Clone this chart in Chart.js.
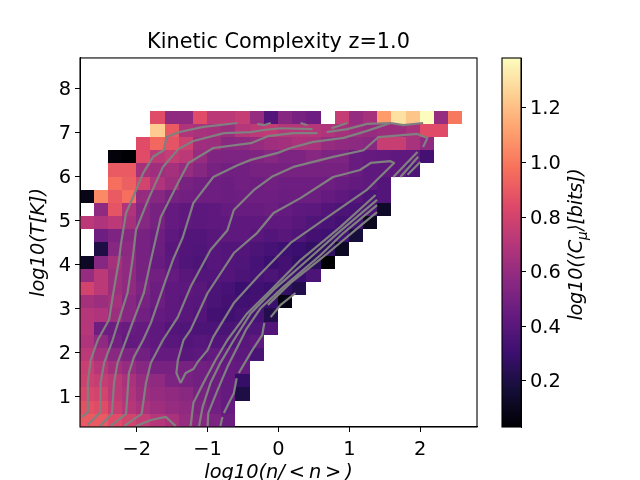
<!DOCTYPE html>
<html>
<head>
<meta charset="utf-8">
<script src="https://cdn.jsdelivr.net/npm/chart.js@4"></script>
<style>
  body { margin: 0; background: #fff; }
  canvas { position: absolute; top: 0; }
  #mapChart { left: 0; }
  #barChart { left: 490px; }
</style>
</head>
<body>
<canvas id="mapChart" width="640" height="480"></canvas>
<canvas id="barChart" width="150" height="480"></canvas>
<script>
const _ = null;

const chartTitle = 'Kinetic Complexity z=1.0';
const xLabel = 'log10(n/\u2009<\u2009n\u2009>\u2009)';
const yLabel = 'log10(T[K])';
const xTicks = [-2, -1, 0, 1, 2];
const yTicks = [1, 2, 3, 4, 5, 6, 7, 8];
const barTicks = [0.2, 0.4, 0.6, 0.8, 1.0, 1.2];
const valueMin = 0.03;
const valueMax = 1.383;

// left edge of each density bin
const xBins = [-2.8, -2.6, -2.4, -2.2, -2.0, -1.8, -1.6, -1.4, -1.2, -1.0, -0.8, -0.6, -0.4, -0.2,
  0, 0.2, 0.4, 0.6, 0.8, 1.0, 1.2, 1.4, 1.6, 1.8, 2.0, 2.2, 2.4, 2.6];
// lower edge of each temperature bin, top row first
const yBins = [7.2, 6.9, 6.6, 6.3, 6.0, 5.7, 5.4, 5.1, 4.8, 4.5, 4.2, 3.9,
  3.6, 3.3, 3.0, 2.7, 2.4, 2.1, 1.8, 1.5, 1.2, 0.9, 0.6, 0.3];

// log10 complexity per cell, one row per yBins entry
const cells = [
  [_, _, _, _, _, .85, .58, .58, .85, .72, .72, .75, .6, .38, .55, .5, .47, _, .75, .6, .65, 1.1, 1.3, 1.22, 1.38, .6, 1.0],
  [_, _, _, _, _, 1.24, .9, .68, .66, .65, .62, .7, .72, .74, .7, .7, .7, .68, .65, .62, .6, .62, .62, .66, .85, .85],
  [_, _, _, _, .85, .95, .88, .78, .63, .62, .56, .57, .6, .63, .64, .67, .66, .6, .58, .57, .56, .76, .76, .66, .58],
  [_, _, .05, .03, .85, .72, .75, .72, .6, .53, .52, .52, .53, .55, .52, .52, .55, .52, .52, .45, .44, .43, .42, .42, .33],
  [_, _, .9, .9, .65, .63, .65, .6, .55, .5, .48, .48, .5, .5, .5, .5, .5, .5, .5, .45, .42, .42, .42, .36],
  [_, _, .97, .92, .8, .68, .62, .5, .48, .47, .46, .48, .47, .48, .47, .47, .47, .47, .45, .43, .42, .38],
  [.08, 1.05, .9, .97, .6, .55, .5, .48, .47, .47, .46, .47, .47, .47, .46, .46, .46, .44, .42, .39, .36, .38],
  [_, .58, .88, .68, .55, .5, .44, .42, .41, .42, .44, .45, .45, .46, .44, .42, .41, .38, .36, .35, .36, .13],
  [.72, .68, .72, .65, .55, .5, .44, .42, .41, .42, .42, .42, .42, .42, .42, .4, .37, .35, .33, .32, .1],
  [_, .47, .52, .55, .5, .47, .42, .38, .38, .4, .42, .42, .4, .38, .4, .37, .33, .31, .31, .18],
  [_, .2, .55, .57, .5, .46, .4, .38, .37, .39, .38, .38, .36, .34, .31, .3, .27, .26, .12],
  [.12, .55, .65, .58, .5, .45, .41, .37, .36, .39, .38, .37, .34, .3, .33, .28, .25, .03],
  [.6, .72, .62, .58, .5, .48, .44, .4, .38, .38, .38, .36, .34, .36, .33, .3, .36],
  [.8, .72, .62, .58, .52, .46, .42, .41, .4, .36, .34, .3, .32, .3, .27, .22],
  [.65, .62, .65, .55, .5, .46, .42, .4, .39, .35, .33, .32, .33, .3, .07],
  [.7, .68, .62, .55, .48, .44, .42, .4, .38, .33, .32, .34, .34, .22],
  [.7, .47, .46, .45, .44, .42, .38, .37, .36, .36, .35, .37, .37, .38],
  [.68, .58, .48, .43, .44, .42, .4, .38, .39, .38, .38, .4, .42],
  [.72, .64, .56, .52, .48, .44, .44, .4, .41, .44, .43, .41, .35],
  [.77, .7, .64, .6, .55, .5, .5, .5, .48, .47, .44, .43],
  [.78, .75, .72, .66, .6, .58, .52, .5, .48, .46, .44, .28],
  [.82, .8, .72, .68, .62, .6, .58, .56, .5, .47, .44, .2],
  [.87, .85, .76, .7, .66, .63, .6, .58, .52, .48, .44],
  [.9, .9, .85, .8, .75, .7, .66, .6, .55, .52, .46]
];

// contour lines, [log n, log T]
const contours = [
  [[-2.77, .53], [-2.69, .64], [-2.69, 1.30], [-2.65, 1.82], [-2.55, 2.28], [-2.39, 2.74], [-2.34, 3.26], [-2.25, 4.10], [-2.22, 4.49], [-2.15, 5.17], [-2.01, 5.69], [-1.91, 6.08], [-1.77, 6.45], [-1.62, 6.60], [-1.58, 6.90], [-1.41, 7.01], [-1.06, 7.13], [-.58, 7.22]],
  [[-.30, 7.20], [-.21, 7.17], [-.11, 7.22]],
  [[.31, 7.22], [.41, 7.17]],
  [[.75, 7.10], [.97, 7.22]],
  [[-2.69, .35], [-2.51, .64], [-2.51, 1.30], [-2.46, 1.76], [-2.34, 2.28], [-2.25, 2.74], [-2.13, 3.35], [-2.06, 4.10], [-2.01, 4.78], [-1.84, 5.47], [-1.63, 6.22], [-1.41, 6.63], [-1.20, 6.81], [-.77, 6.99], [-.39, 7.01], [-.21, 7.06], [.03, 7.10], [.48, 7.08]],
  [[.68, 7.01], [.97, 7.08], [1.25, 7.20], [1.58, 7.22], [1.76, 7.17], [2.04, 7.22]],
  [[-2.53, .30], [-2.35, .60], [-2.32, 1.30], [-2.27, 1.76], [-2.15, 2.28], [-2.06, 2.67], [-1.90, 3.35], [-1.80, 4.10], [-1.66, 5.08], [-1.42, 5.85], [-1.27, 6.31], [-.92, 6.65], [-.39, 6.76], [-.15, 6.92], [.21, 6.99], [.55, 6.99]],
  [[-2.37, .32], [-2.15, .60], [-2.11, 1.53], [-2.04, 1.89], [-1.91, 2.28], [-1.80, 2.67], [-1.59, 3.65], [-1.49, 4.10], [-1.35, 4.62], [-1.20, 5.40], [-.92, 5.99], [-.58, 6.26], [-.39, 6.38], [-.01, 6.54], [.17, 6.65], [.49, 6.79], [.92, 6.88], [1.25, 7.04], [1.58, 7.22]],
  [[-2.18, .32], [-1.93, .60], [-1.87, 1.30], [-1.80, 1.76], [-1.63, 2.28], [-1.42, 2.80], [-1.24, 3.49], [-.96, 4.33], [-.72, 4.78], [-.63, 5.24], [-.35, 5.69], [-.08, 6.01], [.21, 6.22], [.77, 6.45], [1.20, 6.60], [1.41, 6.90], [1.96, 6.97], [2.10, 6.88], [2.04, 6.67]],
  [[-2.01, .32], [-1.80, .46], [-1.59, .53], [-1.45, .32]],
  [[-1.38, 1.30], [-1.44, 1.53], [-1.42, 1.82], [-1.34, 2.28], [-1.24, 2.51], [-1.00, 3.35], [-.63, 4.26], [-.30, 4.72], [-.07, 5.17], [.31, 5.51], [.77, 5.99], [1.15, 6.15], [1.30, 6.31], [1.58, 6.35], [1.63, 6.31], [1.24, 5.69], [.63, 5.01], [.17, 4.49], [-.30, 3.71], [-.63, 3.12], [-.92, 2.35], [-1.00, 2.05], [-1.14, 1.78], [-1.20, 1.62], [-1.31, 1.53], [-1.38, 1.30]],
  [[1.37, 5.58], [.87, 4.85], [.31, 4.10], [-.15, 3.35], [-.44, 2.89], [-.72, 2.28], [-.89, 1.82], [-1.06, 1.30], [-1.20, .85], [-1.24, .32]],
  [[1.39, 5.47], [.84, 4.72], [.41, 4.10], [-.07, 3.42], [-.39, 2.89], [-.63, 2.28], [-.82, 1.76], [-.96, 1.30], [-1.07, .76], [-1.12, .32]],
  [[1.39, 5.35], [.92, 4.72], [.59, 4.21], [.07, 3.49], [-.25, 3.01], [-.46, 2.51], [-.53, 2.28], [-.72, 1.67], [-.86, 1.14], [-.99, .62], [-1.00, .32]],
  [[1.39, 5.19], [1.20, 4.94], [.63, 4.17], [.17, 3.58], [-.15, 3.08]],
  [[.24, 3.35], [.03, 3.08], [-.11, 2.80]],
  [[-.20, 2.67], [-.23, 2.39], [-.37, 2.05], [-.56, 1.53]],
  [[-.59, 1.41], [-.63, 1.07], [-.70, .85], [-.77, .62]],
  [[-.79, .53], [-.82, .32]],
  [[1.96, 6.56], [1.62, 5.99]],
  [[1.97, 6.45], [1.72, 5.99]],
  [[2.00, 6.33], [1.82, 6.04]]
];

const magma = ['#000004', '#140e36', '#3b0f70', '#641a80', '#8c2981', '#b73779',
  '#de4968', '#f7705c', '#fe9f6d', '#fecf92', '#fcfdbf'];

function hexToRgb(h) {
  return [1, 3, 5].map(i => parseInt(h.substr(i, 2), 16));
}

function colorFor(v) {
  let t = (v - valueMin) / (valueMax - valueMin);
  t = Math.max(0, Math.min(1, t)) * (magma.length - 1);
  const i = Math.min(Math.floor(t), magma.length - 2);
  const a = hexToRgb(magma[i]), b = hexToRgb(magma[i + 1]);
  const f = t - i;
  return 'rgb(' + a.map((c, k) => Math.round(c + (b[k] - c) * f)).join(',') + ')';
}

const font = 'DejaVu Sans';
Chart.defaults.font.family = font;
Chart.defaults.color = '#000';

// heat map cells, placed through the chart's scales
const cellPlugin = {
  id: 'cellPlugin',
  beforeDatasetsDraw(chart) {
    const ctx = chart.ctx, xs = chart.scales.x, ys = chart.scales.y;
    ctx.save();
    cells.forEach((row, r) => {
      row.forEach((v, c) => {
        if (v === null) return;
        const left = Math.floor(xs.getPixelForValue(xBins[c]));
        const right = Math.floor(xs.getPixelForValue(xBins[c] + 0.2));
        const bottom = Math.round(ys.getPixelForValue(yBins[r]));
        const top = Math.round(ys.getPixelForValue(yBins[r] + 0.3));
        ctx.fillStyle = colorFor(v);
        ctx.fillRect(left, top, right - left, bottom - top);
      });
    });
    ctx.restore();
  }
};

const framePlugin = {
  id: 'framePlugin',
  afterDraw(chart) {
    const a = chart.chartArea, ctx = chart.ctx;
    ctx.save();
    ctx.strokeStyle = '#000';
    ctx.lineWidth = 1.1;
    ctx.strokeRect(a.left, a.top, a.right - a.left, a.bottom - a.top);
    ctx.restore();
  }
};

function axisTicks(list) {
  return scale => { scale.ticks = list.map(v => ({ value: v })); };
}

new Chart(document.getElementById('mapChart'), {
  type: 'scatter',
  data: {
    datasets: contours.map(line => ({
      data: line.map(p => ({ x: p[0], y: p[1] })),
      showLine: true,
      borderColor: '#808080',
      borderWidth: 2.2,
      pointRadius: 0,
      tension: 0,
      borderJoinStyle: 'round'
    }))
  },
  options: {
    responsive: false,
    animation: false,
    layout: { padding: { right: 163 } },
    plugins: {
      legend: { display: false },
      tooltip: { enabled: false },
      title: {
        display: true,
        text: chartTitle,
        fullSize: false,
        color: '#000',
        font: { size: 20.8, weight: 'normal' },
        padding: { top: 30, bottom: 3 }
      }
    },
    scales: {
      x: {
        type: 'linear',
        min: -2.8,
        max: 2.8,
        afterBuildTicks: axisTicks(xTicks),
        afterFit: s => { s.height = 53; },
        grid: { drawOnChartArea: false, tickLength: 5, color: '#000' },
        border: { color: '#000' },
        ticks: {
          font: { size: 19.4 },
          maxRotation: 0,
          padding: 6,
          callback: v => String(v).replace('-', '\u2212')
        },
        title: { display: true, text: xLabel, font: { size: 19.4, style: 'italic' }, padding: { top: 0, bottom: -5 } }
      },
      y: {
        type: 'linear',
        min: 0.3,
        max: 8.7,
        afterBuildTicks: axisTicks(yTicks),
        afterFit: s => { s.width = 80; },
        grid: { drawOnChartArea: false, tickLength: 5, color: '#000' },
        border: { color: '#000' },
        ticks: { font: { size: 19.4 }, padding: 4, labelOffset: 1.5, callback: v => String(v) },
        title: { display: true, text: yLabel, font: { size: 19.4, style: 'italic' }, padding: { top: 27 } }
      }
    }
  },
  plugins: [cellPlugin, framePlugin]
});

// colour bar label reads upward and has a subscript, so it is set by hand
const barLabelPlugin = {
  id: 'barLabelPlugin',
  afterDraw(chart) {
    const ctx = chart.ctx, a = chart.chartArea;
    const parts = [['log10(\u27e8C', 19.4, 0], ['\u03bc', 13.6, 5], ['\u27e9[bits])', 19.4, 0]];
    ctx.save();
    ctx.translate(92, (a.top + a.bottom) / 2 + 2);
    ctx.rotate(-Math.PI / 2);
    ctx.fillStyle = '#000';
    ctx.textBaseline = 'alphabetic';
    ctx.letterSpacing = '-0.3px';
    let width = 0;
    parts.forEach(p => {
      ctx.font = 'italic ' + p[1] + 'px "' + font + '"';
      width += ctx.measureText(p[0]).width;
    });
    let pos = -width / 2;
    parts.forEach(p => {
      ctx.font = 'italic ' + p[1] + 'px "' + font + '"';
      ctx.fillText(p[0], pos, p[2]);
      pos += ctx.measureText(p[0]).width;
    });
    ctx.restore();
  }
};

new Chart(document.getElementById('barChart'), {
  type: 'bar',
  data: {
    labels: [''],
    datasets: [{
      data: [[valueMin, valueMax]],
      barPercentage: 1,
      categoryPercentage: 1,
      backgroundColor(context) {
        const a = context.chart.chartArea;
        if (!a) return magma[5];
        const g = context.chart.ctx.createLinearGradient(0, a.bottom, 0, a.top);
        magma.forEach((c, i) => g.addColorStop(i / (magma.length - 1), c));
        return g;
      }
    }]
  },
  options: {
    responsive: false,
    animation: false,
    layout: { padding: { left: 12, top: 58, bottom: 53 } },
    plugins: { legend: { display: false }, tooltip: { enabled: false } },
    scales: {
      x: { display: false },
      y: {
        position: 'right',
        min: valueMin,
        max: valueMax,
        afterBuildTicks: axisTicks(barTicks),
        afterFit: s => { s.width = 119; },
        grid: { drawOnChartArea: false, tickLength: 5, color: '#000' },
        border: { color: '#000' },
        ticks: { font: { size: 19.4 }, padding: 4, labelOffset: 1.5, callback: v => v.toFixed(1) }
      }
    }
  },
  plugins: [framePlugin, barLabelPlugin]
});
</script>
</body>
</html>
